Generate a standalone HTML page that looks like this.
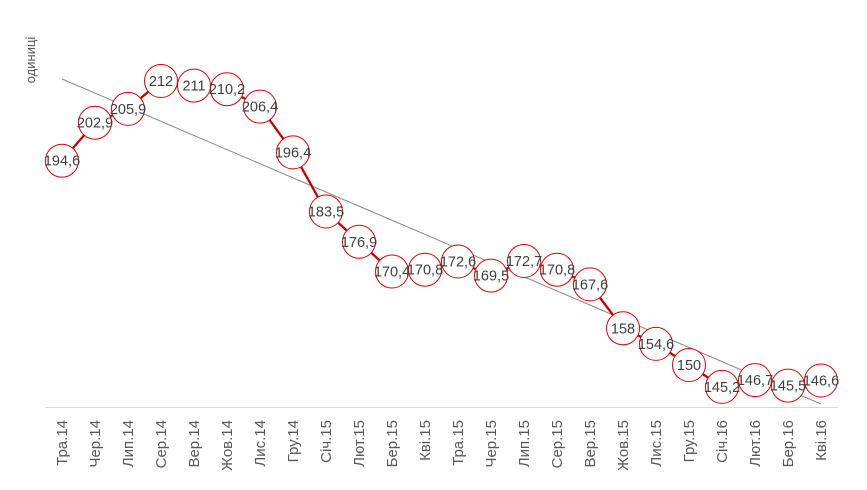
<!DOCTYPE html>
<html><head><meta charset="utf-8"><style>
html,body{margin:0;padding:0;background:#fff;width:867px;height:490px;overflow:hidden}
svg{font-family:"Liberation Sans",sans-serif}
</style></head><body>
<svg id="s" width="867" height="490" xmlns="http://www.w3.org/2000/svg">
<text transform="translate(35,60) rotate(-90)" text-anchor="middle" font-size="13" fill="#595959">одиниці</text>
<line x1="45" y1="407.5" x2="838" y2="407.5" stroke="#d9d9d9" stroke-width="1"/>
<line x1="62" y1="79" x2="821" y2="404" stroke="#888" stroke-width="1"/>
</svg>
<script>
var v=[194.6,202.9,205.9,212,211,210.2,206.4,196.4,183.5,176.9,170.4,170.8,172.6,169.5,172.7,170.8,167.6,158,154.6,150,145.2,146.7,145.5,146.6];
var l=["Тра.14","Чер.14","Лип.14","Сер.14","Вер.14","Жов.14","Лис.14","Гру.14","Січ.15","Лют.15","Бер.15","Кві.15","Тра.15","Чер.15","Лип.15","Сер.15","Вер.15","Жов.15","Лис.15","Гру.15","Січ.16","Лют.16","Бер.16","Кві.16"];
var s=document.getElementById('s'),h='',p=[];
for(var i=0;i<v.length;i++){var x=62+i*33,y=81+(212-v[i])*4.58;p.push(x+','+y.toFixed(1));}
h+='<polyline points="'+p.join(' ')+'" fill="none" stroke="#c00000" stroke-width="2.25"/>';
for(var i=0;i<v.length;i++){var x=62+i*33,y=81+(212-v[i])*4.58;
h+='<circle cx="'+x+'" cy="'+y.toFixed(1)+'" r="16.5" fill="#fff" stroke="#e00000" stroke-width="1"/>';
h+='<text x="'+x+'" y="'+(y+5).toFixed(1)+'" text-anchor="middle" font-size="14.5" fill="#404040">'+String(v[i]).replace('.',',')+'</text>';
h+='<text transform="translate('+(x+5)+',420) rotate(-90)" text-anchor="end" font-size="15" fill="#595959">'+l[i]+'</text>';}
s.insertAdjacentHTML('beforeend',h);
</script>
</body></html>
